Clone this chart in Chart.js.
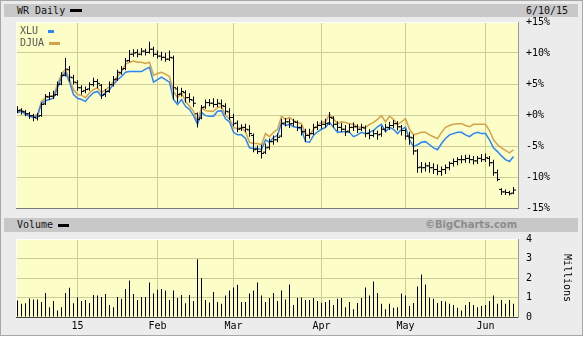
<!DOCTYPE html>
<html>
<head>
<meta charset="utf-8">
<script src="https://cdn.jsdelivr.net/npm/chart.js@4"></script>
<style>
body { margin: 0; background: #fff; font-family: "DejaVu Sans Mono", monospace; font-size: 10px; color: #111; }
#frame { position: absolute; left: 0; top: 0; width: 581px; height: 334px; border: 1px solid #a8a8a8; background: #ececec; }
.hbar { position: absolute; left: 4px; width: 574px; background: #c8c8c8; }
.txt { position: absolute; white-space: nowrap; line-height: 12px; }
.sw { position: absolute; height: 3px; }
canvas { position: absolute; left: 0; }
</style>
</head>
<body>
<div id="frame"></div>
<div class="hbar" style="top:4px;height:13px"></div>
<div class="txt" style="left:17px;top:5px">WR Daily</div>
<div class="sw" style="left:70px;top:9px;width:12px;background:#000"></div>
<div class="txt" style="left:526px;top:5px">6/10/15</div>

<div class="hbar" style="top:218px;height:14px"></div>
<div class="txt" style="left:17px;top:219px">Volume</div>
<div class="sw" style="left:58px;top:224px;width:11px;background:#000"></div>
<div class="txt" style="left:425px;top:219px;font-family:'DejaVu Sans',sans-serif;font-weight:bold;color:#8c8c8c">©BigCharts.com</div>

<canvas id="main" width="584" height="214" style="top:0"></canvas>
<canvas id="vol" width="584" height="107" style="top:232px"></canvas>

<div class="txt" style="left:20px;top:25px;color:#555">XLU</div>
<div class="sw" style="left:48px;top:30px;width:6px;background:#2a85f5"></div>
<div class="txt" style="left:20px;top:37px;color:#555">DJUA</div>
<div class="sw" style="left:49px;top:42px;width:11px;background:#d4a24c"></div>

<script>
// trading days 12/10/14 .. 6/10/15, values in % change
const monthTicks = [15, 35, 54, 76, 97, 117];
const monthLabels = ['15', 'Feb', 'Mar', 'Apr', 'May', 'Jun'];
const pctTicks = [-15, -10, -5, 0, 5, 10, 15];
const volTicks = [0, 1, 2, 3, 4];

const wrOpen = [
  0.9, 0.8, 0.5, 0.2, -0.1, -0.5, -0.1, 1.8, 2.9, 3.0,
  3.3, 5.0, 6.4, 7.3, 6.0, 5.2, 4.4, 3.9, 4.2, 4.9,
  5.4, 4.8, 3.3, 3.8, 4.9, 5.8, 6.8, 7.5, 8.8, 9.8,
  10.1, 9.8, 10.3, 10.1, 10.6, 9.8, 9.5, 9.3, 9.0, 9.2,
  4.2, 3.4, 3.6, 2.8, 2.4, 0.2, -0.5, 1.3, 2.0, 1.9,
  1.7, 1.8, 1.4, 0.5, -0.4, -1.3, -2.2, -2.0, -2.4, -3.3,
  -5.5, -5.9, -6.0, -5.2, -4.3, -4.0, -3.4, -1.3, -1.1, -1.4,
  -1.2, -2.0, -2.7, -3.3, -3.0, -2.0, -1.7, -1.5, -1.3, -0.5,
  -1.5, -2.0, -2.3, -2.6, -2.0, -1.9, -2.3, -2.1, -3.0, -3.3,
  -3.0, -3.1, -2.3, -2.0, -1.7, -1.4, -1.9, -2.5, -3.4, -3.7,
  -5.8, -8.4, -8.5, -8.2, -8.5, -8.8, -9.1, -8.8, -8.5, -7.8,
  -7.5, -7.2, -7.2, -7.0, -7.2, -7.4, -7.0, -7.2, -7.0, -7.7,
  -9.3, -12.0, -12.4, -12.5, -12.6
];
const wrHigh = [
  1.4, 1.1, 0.8, 0.5, 0.2, 0.3, 2.0, 3.4, 3.7, 3.9,
  5.4, 6.9, 9.2, 7.9, 6.5, 5.6, 4.8, 4.6, 5.3, 6.0,
  5.8, 5.0, 4.2, 5.4, 6.3, 7.3, 7.9, 9.2, 10.5, 10.6,
  10.6, 10.8, 10.7, 11.8, 11.0, 10.4, 10.2, 10.0, 10.4, 9.6,
  4.6, 4.4, 4.0, 3.5, 3.0, 0.4, 1.6, 2.5, 2.6, 2.7,
  2.6, 2.5, 1.9, 1.1, 0.2, -0.9, -1.5, -1.4, -1.6, -3.0,
  -4.9, -4.8, -4.6, -3.8, -3.3, -3.0, -0.6, -0.5, -0.6, -0.6,
  -0.9, -1.6, -2.2, -2.2, -1.4, -1.0, -0.9, -0.6, 0.5, -0.2,
  -1.0, -1.3, -1.6, -1.4, -1.2, -1.5, -1.4, -1.7, -2.3, -2.4,
  -2.5, -1.8, -1.4, -1.1, -0.8, -1.0, -1.6, -2.2, -2.7, -3.2,
  -5.5, -7.6, -7.7, -7.6, -7.8, -8.0, -8.3, -8.0, -7.5, -7.0,
  -6.8, -6.5, -6.4, -6.4, -6.6, -6.6, -6.3, -6.2, -6.6, -7.2,
  -8.8, -11.8, -12.0, -12.2, -11.6
];
const wrLow = [
  0.3, 0.0, -0.2, -0.6, -1.0, -0.9, -0.3, 1.6, 2.4, 2.6,
  3.1, 4.8, 6.2, 5.4, 4.9, 3.9, 3.3, 3.5, 3.9, 4.6,
  4.3, 2.6, 2.9, 3.6, 4.6, 5.5, 6.5, 7.2, 8.5, 9.4,
  9.3, 9.6, 9.6, 9.9, 9.4, 9.1, 8.8, 8.6, 8.7, 2.5,
  2.0, 3.0, 2.0, 2.0, 1.3, -2.0, -0.7, 1.0, 1.4, 1.2,
  1.3, 1.0, 0.0, -0.8, -1.8, -2.8, -2.6, -2.8, -3.5, -6.0,
  -6.3, -7.0, -6.3, -5.6, -4.8, -4.4, -3.6, -1.8, -2.1, -1.8,
  -2.6, -3.3, -4.3, -3.8, -3.2, -2.4, -2.2, -2.0, -1.6, -2.0,
  -2.6, -2.8, -3.4, -2.9, -2.6, -2.9, -2.6, -3.6, -3.9, -3.6,
  -4.0, -3.5, -2.7, -2.4, -2.1, -2.5, -3.3, -4.0, -4.8, -6.4,
  -9.3, -9.3, -9.1, -9.3, -9.5, -9.7, -9.8, -9.5, -8.9, -8.3,
  -8.1, -7.8, -7.7, -7.8, -8.0, -7.9, -7.6, -7.6, -8.3, -9.8,
  -10.7, -12.9, -12.9, -13.0, -12.8
];
const wrClose = [
  0.7, 0.6, 0.2, -0.1, -0.4, -0.2, 1.7, 3.0, 3.0, 3.2,
  4.9, 6.4, 7.4, 6.1, 5.3, 4.4, 3.8, 4.1, 4.9, 5.4,
  5.1, 3.2, 3.8, 4.9, 5.7, 6.9, 7.4, 8.7, 9.8, 10.0,
  9.8, 10.3, 10.1, 10.6, 9.8, 9.5, 9.3, 9.0, 9.3, 4.4,
  3.3, 3.8, 2.8, 2.5, 1.9, -0.7, 1.2, 2.0, 1.9, 1.7,
  1.9, 1.5, 0.6, -0.4, -1.4, -2.3, -2.0, -2.3, -3.0, -5.6,
  -5.9, -6.2, -5.3, -4.3, -4.0, -3.6, -1.4, -1.1, -1.4, -1.1,
  -2.0, -2.7, -3.3, -3.0, -2.0, -1.7, -1.5, -1.4, -0.4, -1.5,
  -2.0, -2.3, -2.7, -2.0, -1.9, -2.3, -2.0, -3.0, -3.3, -3.0,
  -3.2, -2.3, -2.0, -1.7, -1.4, -1.9, -2.5, -3.4, -3.6, -5.8,
  -8.5, -8.5, -8.2, -8.5, -8.8, -9.1, -8.8, -8.5, -7.8, -7.5,
  -7.2, -7.2, -7.0, -7.2, -7.4, -7.0, -7.2, -6.9, -7.7, -9.3,
  -10.4, -12.4, -12.5, -12.7, -12.1
];
const xlu = [
  0.4, 0.6, 0.1, -0.2, -0.4, -0.1, 1.9, 2.3, 2.5, 2.7,
  4.4, 6.1, 6.9, 5.3, 3.3, 2.7, 2.5, 2.2, 3.0, 3.6,
  3.8, 3.0, 3.6, 4.1, 4.9, 5.7, 6.2, 6.9, 7.0, 7.0,
  7.0, 7.0, 7.4, 7.7, 5.3, 5.7, 6.1, 5.7, 5.3, 2.5,
  1.7, 2.5, 1.4, 0.9, -0.1, -1.5, 0.4, -0.1, -0.2, -0.2,
  0.6, 0.7, -0.6, -1.1, -2.8, -3.2, -3.2, -3.8, -5.3, -5.4,
  -5.4, -5.6, -4.0, -4.4, -3.6, -3.3, -1.2, -1.7, -1.5, -1.9,
  -2.0, -2.3, -4.3, -4.4, -3.3, -2.7, -2.3, -2.0, -1.2, -2.0,
  -2.8, -2.7, -2.7, -2.8, -3.5, -3.2, -2.8, -3.0, -2.8, -2.5,
  -1.9, -1.5, -2.7, -2.0, -2.3, -3.0, -2.3, -2.0, -4.0, -5.1,
  -4.8, -4.4, -4.3, -4.8, -5.3, -5.6, -4.6, -3.8, -3.2, -3.0,
  -2.8, -2.8, -3.2, -3.5, -3.0, -2.8, -3.0, -3.0, -4.0, -5.3,
  -5.9, -6.6, -7.2, -7.5, -6.7
];
const djua = [
  0.6, 0.7, 0.2, -0.1, -0.2, 0.1, 2.2, 2.8, 3.0, 3.2,
  4.9, 6.6, 7.4, 5.7, 4.1, 3.3, 3.2, 2.8, 3.6, 4.1,
  4.4, 3.6, 4.1, 4.6, 5.4, 6.2, 7.0, 8.2, 8.5, 8.7,
  8.5, 8.5, 8.3, 8.5, 6.4, 6.7, 6.9, 6.6, 6.2, 3.8,
  2.8, 3.6, 2.2, 1.4, 0.6, -1.1, 1.2, 0.7, 0.6, 0.6,
  1.2, 1.4, -0.1, -0.6, -2.0, -2.2, -2.0, -2.7, -4.4, -4.6,
  -4.6, -4.8, -3.0, -3.5, -2.8, -2.3, -0.2, -0.7, -0.4, -0.9,
  -1.2, -1.4, -3.0, -3.3, -2.3, -1.7, -1.2, -1.1, 0.1, -0.6,
  -1.4, -1.1, -1.2, -1.4, -1.5, -1.9, -2.0, -2.0, -1.5, -1.2,
  -0.7, -0.1, -1.1, -0.2, -0.7, -1.5, -1.1, -0.6, -2.3, -3.2,
  -3.0, -2.8, -2.8, -3.2, -3.5, -3.8, -2.8, -2.0, -1.7, -1.5,
  -1.4, -1.4, -1.7, -1.9, -1.5, -1.5, -1.5, -1.5, -2.5, -4.0,
  -4.8, -5.3, -5.7, -6.1, -5.6
];
// millions of shares
const volume = [
  0.84, 0.68, 0.70, 0.95, 0.90, 0.90, 0.77, 1.23, 0.50, 0.82,
  0.33, 0.50, 1.23, 1.50, 0.70, 1.00, 0.82, 0.87, 0.72, 1.13,
  1.10, 1.03, 1.18, 0.62, 0.50, 1.03, 0.94, 1.44, 1.87, 1.18,
  0.87, 1.03, 1.03, 1.77, 1.20, 1.40, 1.44, 1.36, 0.87, 1.36,
  0.97, 1.13, 0.70, 1.13, 0.82, 2.96, 2.00, 0.87, 0.75, 1.28,
  0.77, 0.68, 1.10, 1.36, 1.51, 1.65, 0.77, 0.77, 1.20, 1.36,
  1.77, 1.10, 0.77, 0.97, 1.23, 0.82, 1.36, 0.90, 1.67, 0.62,
  0.97, 1.00, 0.87, 0.87, 0.97, 0.82, 0.73, 0.77, 0.87, 0.62,
  0.94, 0.97, 0.50, 0.77, 0.40, 0.72, 0.97, 1.51, 1.10, 1.82,
  1.23, 0.68, 0.40, 0.68, 0.48, 0.50, 1.20, 1.10, 0.56, 0.72,
  1.56, 2.18, 1.67, 1.00, 0.94, 0.72, 0.82, 0.80, 0.68, 0.62,
  0.48, 0.33, 0.62, 0.77, 0.62, 0.50, 0.57, 0.62, 0.82, 1.10,
  0.68, 0.87, 0.68, 0.87, 0.68
];

const idx = wrClose.map((v, i) => i);
const xMin = -0.375, xMax = 125.125;
const gridCol = '#cccc99';
const monoFont = { family: 'DejaVu Sans Mono', size: 10 };

const plotBg = {
  id: 'plotBg',
  beforeDraw(c) {
    const a = c.chartArea, ctx = c.ctx;
    ctx.save();
    ctx.fillStyle = '#fdfdc8';
    ctx.fillRect(a.left, a.top, a.right - a.left, a.bottom - a.top);
    ctx.restore();
  },
  afterDraw(c) {
    const a = c.chartArea, ctx = c.ctx;
    ctx.save();
    ctx.lineWidth = 1;
    ctx.strokeStyle = '#ffffff';
    ctx.beginPath();
    ctx.moveTo(a.left + 0.5, a.bottom);
    ctx.lineTo(a.left + 0.5, a.top + 0.5);
    ctx.lineTo(a.right, a.top + 0.5);
    ctx.stroke();
    ctx.strokeStyle = c.canvas.id === 'vol' ? '#444' : '#7a7a7a';
    ctx.beginPath();
    ctx.moveTo(a.left, a.bottom + 0.5);
    ctx.lineTo(a.right + 0.5, a.bottom + 0.5);
    ctx.stroke();
    ctx.strokeStyle = '#9a9a9a';
    ctx.beginPath();
    ctx.moveTo(a.right + 0.5, a.top);
    ctx.lineTo(a.right + 0.5, a.bottom + 1);
    ctx.stroke();
    ctx.restore();
  }
};

function xScale(showLabels) {
  return {
    type: 'linear', min: xMin, max: xMax, offset: false,
    afterBuildTicks: s => { s.ticks = monthTicks.map(v => ({ value: v })); },
    ticks: {
      display: showLabels, padding: 3, color: '#000', font: monoFont, maxRotation: 0,
      callback: v => monthLabels[monthTicks.indexOf(v)]
    },
    grid: { color: gridCol, drawTicks: false, offset: false },
    border: { display: false },
    afterFit: s => { s.height = showLabels ? 22 : 0; }
  };
}

// fixed axis box: no extra room for the end labels
function fitRight(s) {
  s.width = 66;
  s.paddingTop = 0;
  s.paddingBottom = 0;
}

new Chart(document.getElementById('main'), {
  type: 'line',
  data: {
    datasets: [{
      type: 'bar',
      data: idx.map(i => ({ x: i, y: [wrLow[i], wrHigh[i]] })),
      backgroundColor: '#000',
      barThickness: 1,
      inflateAmount: 0,
      order: 1
    }, {
      data: idx.map(i => ({ x: i - 0.375, y: wrOpen[i] })),
      showLine: false,
      pointStyle: 'line',
      pointRadius: 1,
      pointBorderWidth: 1,
      pointBorderColor: '#000',
      order: 1
    }, {
      data: idx.map(i => ({ x: i + 0.375, y: wrClose[i] })),
      showLine: false,
      pointStyle: 'line',
      pointRadius: 1,
      pointBorderWidth: 1,
      pointBorderColor: '#000',
      order: 1
    }, {
      data: idx.map(i => ({ x: i, y: xlu[i] })),
      borderColor: '#2a85f5',
      borderWidth: 1.5,
      pointRadius: 0,
      order: 2
    }, {
      data: idx.map(i => ({ x: i, y: djua[i] })),
      borderColor: '#d4a24c',
      borderWidth: 1.5,
      pointRadius: 0,
      order: 3
    }]
  },
  options: {
    responsive: false,
    animation: false,
    devicePixelRatio: 1,
    layout: { autoPadding: false, padding: { left: 16, top: 22, right: 0, bottom: 6 } },
    plugins: { legend: { display: false }, tooltip: { enabled: false } },
    scales: {
      x: xScale(false),
      y: {
        position: 'right', min: -15, max: 15,
        afterBuildTicks: s => { s.ticks = pctTicks.map(v => ({ value: v })); },
        ticks: { padding: 8, color: '#000', font: monoFont, callback: v => (v >= 0 ? '+' : '') + v + '%' },
        grid: { color: gridCol, drawTicks: false },
        border: { display: false },
        afterFit: fitRight
      }
    }
  },
  plugins: [plotBg]
});

new Chart(document.getElementById('vol'), {
  type: 'bar',
  data: {
    datasets: [{
      data: idx.map(i => ({ x: i, y: volume[i] })),
      backgroundColor: '#000',
      barThickness: 1,
      inflateAmount: 0
    }]
  },
  options: {
    responsive: false,
    animation: false,
    devicePixelRatio: 1,
    layout: { autoPadding: false, padding: { left: 16, top: 7, right: 0, bottom: 0 } },
    plugins: { legend: { display: false }, tooltip: { enabled: false } },
    scales: {
      x: xScale(true),
      y: {
        position: 'right', min: 0, max: 4,
        afterBuildTicks: s => { s.ticks = volTicks.map(v => ({ value: v })); },
        ticks: { padding: 8, color: '#000', font: monoFont },
        grid: { color: gridCol, drawTicks: false },
        border: { display: false },
        title: { display: true, text: 'Millions', color: '#000', font: monoFont, padding: { top: 11, bottom: 0 } },
        afterFit: fitRight
      }
    }
  },
  plugins: [plotBg]
});
</script>
</body>
</html>
